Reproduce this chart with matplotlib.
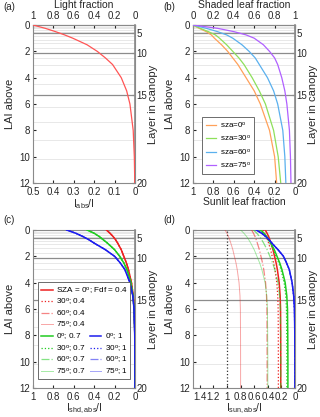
import matplotlib.pyplot as plt
import numpy as np

plt.rcParams['font.family'] = ['Liberation Sans', 'DejaVu Sans']
plt.rcParams['mathtext.fontset'] = 'custom'
plt.rcParams['mathtext.rm'] = 'Liberation Sans'
plt.rcParams['mathtext.it'] = 'Liberation Sans'

# cumulative LAI at the layer boundaries (layer 0..20)
layer_lai = [0, 0.12, 0.25, 0.38, 0.5, 0.63, 0.85, 1.1, 1.4, 1.75, 2.12,
             2.5, 3.0, 3.7, 4.45, 5.3, 6.2, 7.4, 8.7, 10.2, 12]
layer_ticks = [5, 10, 15, 20]

# LAI depth at which the curves were read
lai = [0, 0.25, 0.5, 0.75, 1, 1.5, 2, 2.5, 3, 4, 5, 6, 8, 10, 12]

# (a) light fraction
light_frac = [1, 0.88, 0.78, 0.69, 0.61, 0.47, 0.37, 0.29, 0.22, 0.135, 0.082,
              0.05, 0.018, 0.007, 0.0025]

# (b) sunlit leaf fraction per sza
sza = [0, 30, 60, 75]
sunlit_frac = [
    [1, 0.94, 0.87, 0.82, 0.79, 0.72, 0.66, 0.61, 0.56, 0.48, 0.40, 0.34, 0.25, 0.20, 0.18],
    [1, 0.93, 0.85, 0.78, 0.74, 0.67, 0.61, 0.55, 0.50, 0.42, 0.35, 0.29, 0.21, 0.165, 0.14],
    [1, 0.87, 0.76, 0.67, 0.61, 0.52, 0.45, 0.39, 0.35, 0.27, 0.21, 0.17, 0.12, 0.10, 0.09],
    [1, 0.76, 0.60, 0.48, 0.40, 0.31, 0.25, 0.20, 0.17, 0.13, 0.10, 0.08, 0.055, 0.045, 0.04],
]
sza_colors = ['#ffa15a', '#8ee05a', '#5ab0ee', '#b060ff']

# (c) shaded absorbed, per Fdf (all sza nearly overlap)
fdf = ['0.4', '0.7', '1']
shd_abs = [
    [0.28, 0.245, 0.215, 0.19, 0.17, 0.135, 0.11, 0.085, 0.065, 0.035, 0.018, 0.008, 0.002, 0.0005, 0],
    [0.47, 0.40, 0.35, 0.31, 0.27, 0.20, 0.15, 0.11, 0.08, 0.04, 0.02, 0.009, 0.002, 0.0005, 0],
    [0.67, 0.58, 0.51, 0.45, 0.40, 0.29, 0.20, 0.145, 0.10, 0.05, 0.022, 0.01, 0.003, 0.001, 0],
]

# (d) sunlit absorbed, per Fdf then per sza
sun_abs = [
    [[0.438, 0.411, 0.388, 0.37, 0.354, 0.324, 0.301, 0.278, 0.26, 0.233, 0.219, 0.213, 0.211, 0.21, 0.21],
     [0.473, 0.446, 0.423, 0.405, 0.389, 0.359, 0.336, 0.313, 0.295, 0.268, 0.254, 0.248, 0.246, 0.245, 0.245],
     [0.638, 0.611, 0.588, 0.57, 0.554, 0.524, 0.501, 0.478, 0.46, 0.433, 0.419, 0.413, 0.411, 0.41, 0.41],
     [1.028, 1.001, 0.978, 0.96, 0.944, 0.914, 0.891, 0.868, 0.85, 0.823, 0.809, 0.803, 0.801, 0.8, 0.8]],
    [[0.504, 0.456, 0.416, 0.384, 0.356, 0.305, 0.265, 0.225, 0.193, 0.145, 0.121, 0.111, 0.107, 0.105, 0.105],
     [0.519, 0.471, 0.431, 0.399, 0.371, 0.32, 0.28, 0.24, 0.208, 0.16, 0.136, 0.126, 0.122, 0.12, 0.12],
     [0.609, 0.561, 0.521, 0.489, 0.461, 0.41, 0.37, 0.33, 0.298, 0.25, 0.226, 0.216, 0.212, 0.21, 0.21],
     [0.799, 0.751, 0.711, 0.679, 0.651, 0.6, 0.56, 0.52, 0.488, 0.44, 0.416, 0.406, 0.402, 0.4, 0.4]],
    [[0.57, 0.49, 0.43, 0.38, 0.34, 0.25, 0.17, 0.125, 0.085, 0.043, 0.02, 0.009, 0.003, 0.001, 0]] * 4,
]
ref_sun = 1.0

fdf_colors = ['#ee2020', '#20cc20', '#1c1cee']
sza_styles = [dict(ls='-', lw=1.1, alpha=1.0), dict(ls=':', lw=0.9, alpha=1.0),
              dict(ls='-.', lw=0.9, alpha=0.55), dict(ls='-', lw=0.7, alpha=0.4)]

SPINE = '#8a8a8a'
TXT = '#262626'


def setup(ax, xlim, xticks, xlabels, xlabel):
    ax.set_xlim(*xlim)
    ax.set_ylim(12, 0)
    for i, b in enumerate(layer_lai):
        if i in (5, 10, 15):
            ax.axhline(b, color='#8c8c8c', lw=0.9, zorder=1)
        else:
            ax.axhline(b, color='#e4e4e4', lw=0.6, zorder=0)
    ax.set_yticks([0, 2, 4, 6, 8, 10, 12])
    ax.set_xticks(xticks)
    ax.set_xticklabels(xlabels)
    ax.set_xlabel(xlabel, fontsize=7.5, labelpad=0, color=TXT)
    ax.set_ylabel('LAI above', fontsize=8, labelpad=3, color=TXT)
    ax.tick_params(direction='in', length=2, labelsize=7, colors=TXT, pad=2)
    ax.tick_params(axis='x', pad=3)
    for s in ax.spines.values():
        s.set_color(SPINE)
        s.set_linewidth(0.8)
    r = ax.secondary_yaxis('right')
    r.set_yticks([layer_lai[k] for k in layer_ticks])
    r.set_yticklabels([str(k) for k in layer_ticks])
    r.tick_params(direction='in', length=2, labelsize=7, colors=TXT, pad=1)
    r.spines['right'].set_color(SPINE)
    r.spines['right'].set_linewidth(1.2)
    r.set_ylabel('Layer in canopy', fontsize=8, labelpad=0.5, color=TXT)
    return ax


fig = plt.figure(figsize=(3.2, 4.17), dpi=100)
pos_a = [0.103, 0.561, 0.319, 0.379]
pos_b = [0.603, 0.561, 0.319, 0.379]
pos_c = [0.103, 0.0695, 0.319, 0.379]
pos_d = [0.603, 0.0695, 0.319, 0.379]

# (a)
ax = fig.add_axes(pos_a)
setup(ax, (1, 0), [1, 0.8, 0.6, 0.4, 0.2, 0], ['0.5', '0.4', '0.3', '0.2', '0.1', '0'],
      'I$_{\\rm abs}$/I')
ax.plot(light_frac, lai, color='#ff5555', lw=0.9, zorder=3)
top = ax.secondary_xaxis('top')
top.set_xticks([1, 0.8, 0.6, 0.4, 0.2, 0])
top.set_xticklabels(['1', '0.8', '0.6', '0.4', '0.2', '0'])
top.tick_params(direction='in', length=2, labelsize=7, colors=TXT, pad=3)
top.spines['top'].set_color(SPINE)
top.set_xlabel('Light fraction', fontsize=7.5, labelpad=2, color=TXT)

# (b)
ax = fig.add_axes(pos_b)
setup(ax, (1, 0), [1, 0.8, 0.6, 0.4, 0.2, 0], ['1', '0.8', '0.6', '0.4', '0.2', '0'],
      'Sunlit leaf fraction')
for k, s in enumerate(sza):
    ax.plot(sunlit_frac[k], lai, color=sza_colors[k], lw=0.9, zorder=3,
            label='sza=%d$^{\\rm o}$' % s)
top = ax.secondary_xaxis('top', functions=(lambda x: 1 - x, lambda x: 1 - x))
top.set_xticks([0, 0.2, 0.4, 0.6, 0.8, 1])
top.set_xticklabels(['0', '0.2', '0.4', '0.6', '0.8', '1'])
top.tick_params(direction='in', length=2, labelsize=7, colors=TXT, pad=3)
top.spines['top'].set_color(SPINE)
top.set_xlabel('Shaded leaf fraction', fontsize=7.5, labelpad=2, color=TXT)
leg = ax.legend(loc='lower left', bbox_to_anchor=(0.05, 0.035), fontsize=5.8,
                handlelength=1.25, handletextpad=0.5, labelspacing=0.4,
                borderpad=0.45, fancybox=False, framealpha=1)
leg.get_frame().set_edgecolor('#555555')
leg.get_frame().set_linewidth(0.6)

# (c)
ax = fig.add_axes(pos_c)
setup(ax, (1, 0), [1, 0.8, 0.6, 0.4, 0.2, 0], ['1', '0.8', '0.6', '0.4', '0.2', '0'],
      'I$_{\\rm shd,abs}$/I')
handles = {}
for j, f in enumerate(fdf):
    for k, s in enumerate(sza):
        h, = ax.plot(shd_abs[j], lai, color=fdf_colors[j], zorder=3, **sza_styles[k])
        handles[(j, k)] = h


def lab(j, k):
    if j == 0 and k == 0:
        return 'SZA = 0$^{\\rm o}$; Fdf = 0.4'
    return '%d$^{\\rm o}$; %s' % (sza[k], fdf[j])


leg_kw = dict(fontsize=5.9, handlelength=1.45, handletextpad=0.4, labelspacing=0.08,
              borderpad=0.3)
hs1 = [handles[(j, k)] for j in (0, 1) for k in range(4)]
ls1 = [lab(j, k) for j in (0, 1) for k in range(4)]
leg1 = ax.legend(hs1, ls1, loc='lower center', bbox_to_anchor=(0.5, 0.03),
                 fancybox=False, framealpha=1, **leg_kw)
leg1.get_frame().set_edgecolor('#555555')
leg1.get_frame().set_linewidth(0.6)
ax.add_artist(leg1)
hs2 = [handles[(2, k)] for k in range(4)]
ls2 = [lab(2, k) for k in range(4)]
leg2 = ax.legend(hs2, ls2, loc='lower left', bbox_to_anchor=(0.49, 0.03),
                 frameon=False, **leg_kw)

# (d)
ax = fig.add_axes(pos_d)
setup(ax, (1.5, 0), [1.4, 1.2, 1, 0.8, 0.6, 0.4, 0.2, 0],
      ['1.4', '1.2', '1', '0.8', '0.6', '0.4', '0.2', '0'], 'I$_{\\rm sun,abs}$/I')
ax.axvline(ref_sun, color='#333333', ls=':', lw=0.9, zorder=2)
for j in range(3):
    for k in range(4):
        ax.plot(sun_abs[j][k], lai, color=fdf_colors[j], zorder=3, **sza_styles[k])

for x, y, t in [(0.01, 0.983, '(a)'), (0.51, 0.983, '(b)'),
                (0.01, 0.472, '(c)'), (0.51, 0.472, '(d)')]:
    fig.text(x, y, t, fontsize=7, color=TXT, va='center')

fig.savefig('out.png', dpi=100)
